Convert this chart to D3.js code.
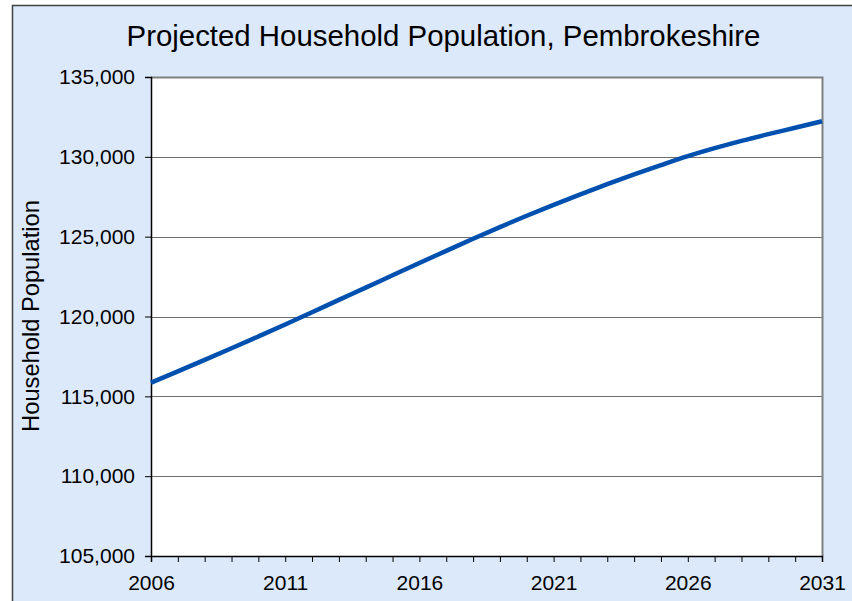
<!DOCTYPE html>
<html>
<head>
<meta charset="utf-8">
<script src="https://cdn.jsdelivr.net/npm/d3@7"></script>
<style>
  body { margin: 0; background: #fff; }
  svg text { font-family: "Liberation Sans", Arial, sans-serif; fill: #000; }
</style>
</head>
<body>
<div id="chartContainer"></div>
<script>
// data
var years = [2006, 2007, 2008, 2009, 2010, 2011, 2012, 2013, 2014, 2015, 2016, 2017, 2018,
             2019, 2020, 2021, 2022, 2023, 2024, 2025, 2026, 2027, 2028, 2029, 2030, 2031];
var households = [115850, 116560, 117280, 118010, 118750, 119500, 120270, 121040, 121810,
                  122580, 123350, 124110, 124870, 125600, 126310, 126990, 127650, 128290,
                  128900, 129480, 130040, 130540, 131000, 131420, 131820, 132230];
var yTicks = [105000, 110000, 115000, 120000, 125000, 130000, 135000];
var xLabelYears = [2006, 2011, 2016, 2021, 2026, 2031];

var chartTitle = "Projected Household Population, Pembrokeshire";
var yLabel = "Household Population";

var cfg = {
  w: 852,
  h: 601,
  left: 151,
  right: 822,
  top: 77,
  bot: 556
};

var svg = d3.select("#chartContainer").append("svg")
  .attr("width", cfg.w)
  .attr("height", cfg.h);

// outer chart frame
svg.append("rect")
  .attr("x", 12.5)
  .attr("y", 5.5)
  .attr("width", 900)
  .attr("height", 700)
  .style("fill", "#dce9fb")
  .style("stroke", "#404040")
  .style("stroke-width", 1.5);

// plot area
svg.append("rect")
  .attr("x", cfg.left)
  .attr("y", cfg.top)
  .attr("width", cfg.right - cfg.left)
  .attr("height", cfg.bot - cfg.top)
  .style("fill", "#fff");

var xScale = d3.scaleLinear()
  .domain([2006, 2031])
  .range([cfg.left, cfg.right]);

var yScale = d3.scaleLinear()
  .domain([105000, 135000])
  .range([cfg.bot, cfg.top]);

// gridlines
svg.append("g")
  .selectAll("line")
  .data(yTicks.slice(1))
  .enter()
  .append("line")
  .attr("x1", cfg.left)
  .attr("x2", cfg.right)
  .attr("y1", function(d) { return Math.round(yScale(d)) + 0.5; })
  .attr("y2", function(d) { return Math.round(yScale(d)) + 0.5; })
  .style("stroke", "#6e6e6e")
  .style("stroke-width", 1.2);

// top and right border of plot
svg.append("path")
  .attr("d", "M" + cfg.left + "," + (cfg.top + 0.5) + "H" + (cfg.right + 0.5) + "V" + cfg.bot)
  .style("fill", "none")
  .style("stroke", "#808080")
  .style("stroke-width", 2);

// y axis
var yAxis = d3.axisLeft(yScale)
  .tickValues(yTicks)
  .tickSize(6)
  .tickPadding(10)
  .tickFormat(d3.format(","));

var yG = svg.append("g")
  .attr("transform", "translate(" + cfg.left + ",0)")
  .call(yAxis);
yG.select(".domain").style("stroke", "#000").style("stroke-width", 1.5);
yG.selectAll(".tick line").style("stroke", "#000");
yG.selectAll(".tick text")
  .style("font-size", "21px")
  .attr("font-family", null);

// x axis, ticks every year, labels every 5
var xAxis = d3.axisBottom(xScale)
  .tickValues(years)
  .tickSize(6)
  .tickPadding(13.5)
  .tickFormat(function(d) { return xLabelYears.indexOf(d) >= 0 ? d : ""; });

var xG = svg.append("g")
  .attr("transform", "translate(0," + cfg.bot + ")")
  .call(xAxis);
xG.select(".domain").style("stroke", "#000").style("stroke-width", 1.5);
xG.selectAll(".tick line").style("stroke", "#000");
xG.selectAll(".tick text")
  .style("font-size", "21px")
  .attr("font-family", null);

// the line
var line = d3.line()
  .x(function(d, i) { return xScale(years[i]); })
  .y(function(d) { return yScale(d); })
  .curve(d3.curveMonotoneX);

svg.append("path")
  .datum(households)
  .attr("d", line)
  .style("fill", "none")
  .style("stroke", "#0050b0")
  .style("stroke-width", 4.5)
  .style("stroke-linejoin", "round");

// title
svg.append("text")
  .attr("x", 443.5)
  .attr("y", 46)
  .attr("text-anchor", "middle")
  .style("font-size", "29.4px")
  .text(chartTitle);

// y label
svg.append("text")
  .attr("transform", "translate(38.5,316) rotate(-90)")
  .attr("text-anchor", "middle")
  .style("font-size", "23.7px")
  .text(yLabel);
</script>
</body>
</html>
